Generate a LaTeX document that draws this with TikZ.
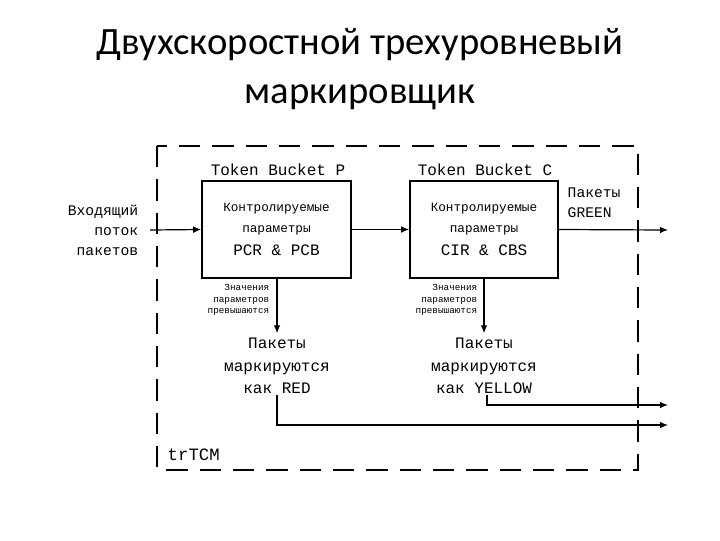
\documentclass[tikz,border=0pt]{standalone}
\usepackage{fontspec}
\setmainfont{Carlito}
\newfontfamily\mono{Liberation Mono}
\usetikzlibrary{arrows.meta}
\begin{document}
\begin{tikzpicture}[x=0.75pt,y=-0.75pt,
  box/.style={draw,line width=1.2pt,inner sep=0pt},
  lbl/.style={font=\mono\fontsize{12}{14}\selectfont,align=center},
  mid/.style={font=\mono\fontsize{11}{15}\selectfont,align=center},
  inb/.style={font=\mono\fontsize{9.5}{10}\selectfont,align=center},
  small/.style={font=\mono\fontsize{7}{8.5}\selectfont,align=right},
  arr/.style={-{Latex[length=6pt,width=5pt]},line width=0.9pt},
  ln/.style={line width=0.9pt}]
\useasboundingbox (0,0) rectangle (720,540);
\node[font=\fontsize{29}{30}\selectfont] (t1) at (360,45) {Двухскоростной трехуровневый};
\node[font=\fontsize{29}{30}\selectfont] (t2) at (360,97) {маркировщик};
\draw[line width=2pt,dash pattern=on 16pt off 9pt] (157,146) rectangle (638,470);
\node[box,minimum width=149*0.75pt,minimum height=97*0.75pt] (P) at (276.5,229.5) {};
\node[box,minimum width=148*0.75pt,minimum height=97*0.75pt] (C) at (484,229.5) {};
\node[inb] (p1) at (276.5,209) {Контролируемые};
\node[inb] (p2) at (276.5,230) {параметры};
\node[lbl] (p3) at (276.5,250) {PCR \& PCB};
\node[inb] (c1) at (484,209) {Контролируемые};
\node[inb] (c2) at (484,230) {параметры};
\node[lbl] (c3) at (484,250) {CIR \& CBS};
\node[lbl] (tp) at (278,170) {Token Bucket P};
\node[lbl] (tc) at (485,170) {Token Bucket C};
\node[mid,align=right,anchor=east] (in) at (143,230) {Входящий\\поток\\пакетов};
\node[mid,anchor=west,align=left] (g) at (563,203) {Пакеты\\GREEN};
\coordinate (inS) at (150,230);
\coordinate (outE) at (668,230);
\draw[arr] (inS) -- (P.west);
\draw[arr] (P.east) -- (C.west);
\draw[arr] (C.east) -- (outE);
\node[small,anchor=east] (sp) at (274,300) {Значения\\параметров\\превышаются};
\node[small,anchor=east] (sc) at (482,300) {Значения\\параметров\\превышаются};
\node[mid,font=\mono\fontsize{12}{17}\selectfont] (red) at (277,366) {Пакеты\\маркируются\\как RED};
\node[mid,font=\mono\fontsize{12}{17}\selectfont] (yel) at (484,366) {Пакеты\\маркируются\\как YELLOW};
\draw[arr] (P.south -| red.north) -- (red.north);
\draw[arr] (C.south -| yel.north) -- (yel.north);
\coordinate (redE) at (668,425);
\coordinate (yelE) at (668,405);
\draw[arr] (277,395) |- (redE);
\draw[arr] (487,395) |- (yelE);
\node[lbl,font=\mono\fontsize{13}{14}\selectfont,anchor=west] (tr) at (163,455) {trTCM};
\end{tikzpicture}
\end{document}
